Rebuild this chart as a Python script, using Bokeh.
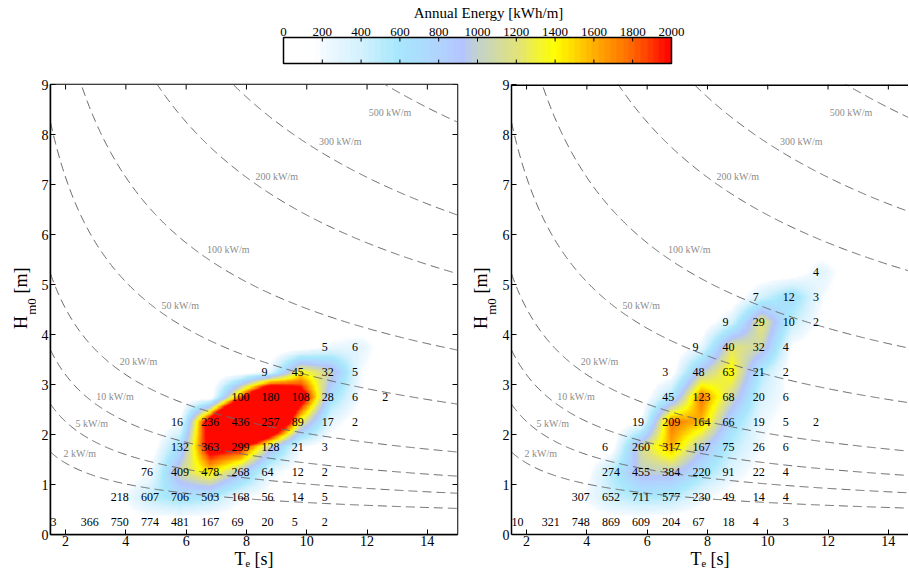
import numpy as np
from bokeh.plotting import figure
from bokeh.layouts import column, row
from bokeh.models import LinearColorMapper, LinearAxis, FixedTicker, Range1d
from bokeh.core.properties import value
from bokeh.embed import file_html
from bokeh.resources import INLINE

FONT = "Liberation Serif"

# ---------------- data ----------------
te_text = [1.5, 2.5, 3.5, 4.5, 5.5, 6.5, 7.5, 8.5, 9.5, 10.5, 11.5, 12.5]   # Te column (label anchor) [s]
hm0_rows = [0.25, 0.75, 1.25, 1.75, 2.25, 2.75, 3.25, 3.75, 4.25, 4.75, 5.25]  # Hm0 row centres [m]

left_counts = [
    [3, 366, 750, 774, 481, 167, 69, 20, 5, 2, 0, 0],
    [0, 0, 218, 607, 706, 503, 168, 56, 14, 5, 0, 0],
    [0, 0, 0, 76, 409, 478, 268, 64, 12, 2, 0, 0],
    [0, 0, 0, 0, 132, 363, 299, 128, 21, 3, 0, 0],
    [0, 0, 0, 0, 16, 236, 436, 257, 89, 17, 2, 0],
    [0, 0, 0, 0, 0, 0, 100, 180, 108, 28, 6, 2],
    [0, 0, 0, 0, 0, 0, 0, 9, 45, 32, 5, 0],
    [0, 0, 0, 0, 0, 0, 0, 0, 0, 5, 6, 0],
    [0, 0, 0, 0, 0, 0, 0, 0, 0, 0, 0, 0],
    [0, 0, 0, 0, 0, 0, 0, 0, 0, 0, 0, 0],
    [0, 0, 0, 0, 0, 0, 0, 0, 0, 0, 0, 0],
]

right_counts = [
    [10, 321, 748, 869, 609, 204, 67, 18, 4, 3, 0, 0],
    [0, 0, 307, 652, 711, 577, 230, 49, 14, 4, 0, 0],
    [0, 0, 0, 274, 455, 384, 220, 91, 22, 4, 0, 0],
    [0, 0, 0, 6, 260, 317, 167, 75, 26, 6, 0, 0],
    [0, 0, 0, 0, 19, 209, 164, 66, 19, 5, 2, 0],
    [0, 0, 0, 0, 0, 45, 123, 68, 20, 6, 0, 0],
    [0, 0, 0, 0, 0, 3, 48, 63, 21, 2, 0, 0],
    [0, 0, 0, 0, 0, 0, 9, 40, 32, 4, 0, 0],
    [0, 0, 0, 0, 0, 0, 0, 9, 29, 10, 2, 0],
    [0, 0, 0, 0, 0, 0, 0, 0, 7, 12, 3, 0],
    [0, 0, 0, 0, 0, 0, 0, 0, 0, 0, 4, 0],
]

# energy scaling of each site (hours -> annual kWh/m)
left_scale = 0.60
right_scale = 0.50

power_levels = [2, 5, 10, 20, 50, 100, 200, 300, 500]          # kW/m
power_label_te = [1.93, 2.33, 3.02, 3.80, 5.18, 6.69, 8.30, 10.41, 12.06]
power_label_hm0 = [1.63, 2.22, 2.76, 3.47, 4.58, 5.70, 7.16, 7.87, 8.45]

cbar_ticks = [0, 200, 400, 600, 800, 1000, 1200, 1400, 1600, 1800, 2000]
x_ticks = [2, 4, 6, 8, 10, 12, 14]
y_ticks = [0, 1, 2, 3, 4, 5, 6, 7, 8, 9]

# ---------------- colour map ----------------
anchors = [(0.00, "#ffffff"), (0.08, "#ffffff"), (0.10, "#f2f9ff"), (0.20, "#d2f1fd"),
           (0.29, "#a8e8fc"), (0.40, "#b0d4fd"), (0.46, "#b4c4ff"), (0.50, "#c2d2cc"),
           (0.60, "#e2e27c"), (0.70, "#ffff00"), (0.80, "#ffb000"), (0.90, "#ff6600"),
           (1.00, "#ff0000")]
af = np.array([a[0] for a in anchors])
ac = np.array([[int(c[1:3], 16), int(c[3:5], 16), int(c[5:7], 16)] for _, c in anchors], float)
palette = []
N = 64
for i in range(N):
    f = (i + 0.5) / N
    r, g, b = [np.interp(f, af, ac[:, j]) for j in range(3)]
    palette.append("#%02x%02x%02x" % (int(round(r)), int(round(g)), int(round(b))))
mapper = LinearColorMapper(palette=palette, low=0, high=2000)

NODE_SHIFT = 0.3
LEFT_FW = 407
RIGHT_FW = 397
PX_PER_S = LEFT_FW / 13.5
TOTAL_W = 908
CB_H = 70
ROW_H = 576 - CB_H             # 506
ROW_BOTTOM = CB_H + ROW_H      # 576


def energy_image(counts, scale):
    te_nodes = np.array(te_text) + NODE_SHIFT
    h = np.array(hm0_rows)
    c = np.array(counts, float)
    E = c * 0.49 * h[:, None] ** 2 * te_nodes[None, :] * scale
    te_full = np.concatenate([[te_nodes[0] - 1.0], te_nodes, te_nodes[-1] + np.arange(1, 5)])
    h_full = np.concatenate([[h[0] - 0.5], h, h[-1] + 0.5 * np.arange(1, 9)])
    Ef = np.zeros((len(h_full), len(te_full)))
    Ef[1:1 + len(h), 1:1 + len(te_nodes)] = E
    nx, ny = 540, 360
    xs = 1.5 + (np.arange(nx) + 0.5) * (13.5 / nx)
    ys = 0.0 + (np.arange(ny) + 0.5) * (9.0 / ny)
    tmp = np.array([np.interp(xs, te_full, Ef[i]) for i in range(len(h_full))])
    img = np.array([np.interp(ys, h_full, tmp[:, j]) for j in range(nx)]).T
    return img


def style_axis(ax, size="14px"):
    ax.major_tick_in = 5
    ax.major_tick_out = 0
    ax.minor_tick_in = 0
    ax.minor_tick_out = 0
    ax.axis_line_width = 1.5
    ax.axis_line_color = "black"
    ax.major_tick_line_color = "black"
    ax.major_tick_line_width = 1
    ax.major_label_text_font = FONT
    ax.major_label_text_color = "black"
    ax.major_label_text_font_size = size


def bare_fig(w, h, xr, yr):
    f = figure(width=w, height=h, x_range=Range1d(*xr), y_range=Range1d(*yr), toolbar_location=None,
               output_backend="svg", x_axis_location=None, y_axis_location=None,
               min_border_left=0, min_border_right=0, min_border_top=0, min_border_bottom=0)
    f.grid.visible = False
    f.outline_line_color = None
    f.background_fill_color = "white"
    f.border_fill_color = "white"
    return f


def panel(counts, scale, frame_w, xmax, mb_left, mb_right, full_box):
    p = figure(frame_width=frame_w, height=ROW_H, x_range=Range1d(1.5, xmax), y_range=Range1d(0, 9),
               min_border_left=mb_left, min_border_right=mb_right, min_border_top=14,
               min_border_bottom=42, toolbar_location=None, output_backend="svg",
               x_axis_location=None, y_axis_location=None)
    p.grid.visible = False
    p.background_fill_color = "white"
    p.border_fill_color = "white"
    p.outline_line_color = "black" if full_box else None
    p.outline_line_width = 1.5

    img = energy_image(counts, scale)
    p.image(image=[img], x=1.5, y=0, dw=13.5, dh=9, color_mapper=mapper)

    te_line = np.linspace(1.5, 15, 400)
    for P in power_levels:
        p.line(te_line, np.sqrt(P / (0.49 * te_line)), line_dash="9 5", line_color="#6a6a6a", line_width=1)
    p.text(x=power_label_te, y=power_label_hm0, text=["%d kW/m" % P for P in power_levels],
           text_font=value(FONT), text_font_size="10px", text_color="#8c8c8c",
           text_align="left", text_baseline="middle")

    xs, ys, ts = [], [], []
    for i, h in enumerate(hm0_rows):
        for j, t in enumerate(te_text):
            if counts[i][j] > 0:
                xs.append(t); ys.append(h); ts.append(str(counts[i][j]))
    p.text(x=xs, y=ys, text=ts, text_font=value(FONT), text_font_size="12px", text_color="black",
           text_align="left", text_baseline="middle")

    # inward tick marks on the top edge (and right edge for the full box)
    tl_y = 5 / 50.0
    tl_x = 5 / PX_PER_S
    p.segment(x0=x_ticks, y0=[9] * len(x_ticks), x1=x_ticks, y1=[9 - tl_y] * len(x_ticks),
              line_color="black", line_width=1)
    if full_box:
        p.segment(x0=[15] * len(y_ticks), y0=y_ticks, x1=[15 - tl_x] * len(y_ticks), y1=y_ticks,
                  line_color="black", line_width=1)
    else:
        # top border line (right edge lies outside the picture)
        p.line([1.5, xmax], [9, 9], line_color="black", line_width=3)

    bx = LinearAxis(ticker=FixedTicker(ticks=x_ticks)); style_axis(bx); bx.major_label_standoff = 1
    bx.axis_label = "T\u2091 [s]"
    bx.axis_label_text_font = FONT
    bx.axis_label_text_font_size = "18px"
    bx.axis_label_text_font_style = "normal"
    bx.axis_label_text_color = "black"
    bx.axis_label_standoff = 0
    p.add_layout(bx, "below")
    ly = LinearAxis(ticker=FixedTicker(ticks=y_ticks)); style_axis(ly); ly.major_label_standoff = 2
    p.add_layout(ly, "left")
    return p


def ylabel_fig(x0, width, base_x):
    f = bare_fig(width, ROW_H, (x0, x0 + width), (ROW_BOTTOM, CB_H))
    f.text(x=[base_x], y=[345], text=["H"], angle=np.pi / 2, text_font=value(FONT), text_font_size="18px",
           text_align="left", text_baseline="alphabetic", text_color="black")
    f.text(x=[base_x + 10.5], y=[329], text=["m0"], angle=np.pi / 2, text_font=value(FONT),
           text_font_size="13px", text_align="left", text_baseline="alphabetic", text_color="black")
    f.text(x=[base_x], y=[305], text=["[m]"], angle=np.pi / 2, text_font=value(FONT), text_font_size="18px",
           text_align="left", text_baseline="alphabetic", text_color="black")
    return f


# ---------------- colour bar (pixel-coordinate strip) ----------------
CB_L, CB_R, CB_T, CB_B = 283, 671, 37, 63


def cb_x(v):
    return CB_L + np.asarray(v, float) * (CB_R - CB_L) / 2000.0


cb = bare_fig(TOTAL_W, CB_H, (0, TOTAL_W), (CB_H, 0))
cb.image(image=[np.linspace(0, 2000, 400)[None, :]], x=CB_L, y=CB_T, dw=CB_R - CB_L, dh=CB_B - CB_T,
         color_mapper=mapper)
cb.quad(left=[CB_L], right=[CB_R], top=[CB_T], bottom=[CB_B], fill_color=None, line_color="black",
        line_width=1.5)
tx_cb = cb_x(cbar_ticks)
cb.segment(x0=tx_cb, y0=[CB_T] * len(tx_cb), x1=tx_cb, y1=[CB_T + 4] * len(tx_cb), line_color="black",
           line_width=1)
cb.segment(x0=tx_cb, y0=[CB_B] * len(tx_cb), x1=tx_cb, y1=[CB_B - 4] * len(tx_cb), line_color="black",
           line_width=1)
cb.text(x=tx_cb, y=[31] * len(tx_cb), text=[str(t) for t in cbar_ticks], text_font=value(FONT),
        text_font_size="13px", text_align="center", text_baseline="middle", text_color="black")
cb.text(x=[488], y=[12.5], text=["Annual Energy [kWh/m]"], text_font=value(FONT), text_font_size="15px",
        text_align="center", text_baseline="middle", text_color="black")

# ---------------- panels and axis titles ----------------
ylab_l = ylabel_fig(0, 36, 20.5)
pl = panel(left_counts, left_scale, LEFT_FW, 15.0, 14, 6, True)
ylab_r = ylabel_fig(463, 34, 480.5)
pr = panel(right_counts, right_scale, RIGHT_FW, 1.5 + RIGHT_FW / PX_PER_S, 14, 0, False)

layout = column(cb, row(ylab_l, pl, ylab_r, pr))
open("out.html", "w").write(file_html(layout, INLINE))
